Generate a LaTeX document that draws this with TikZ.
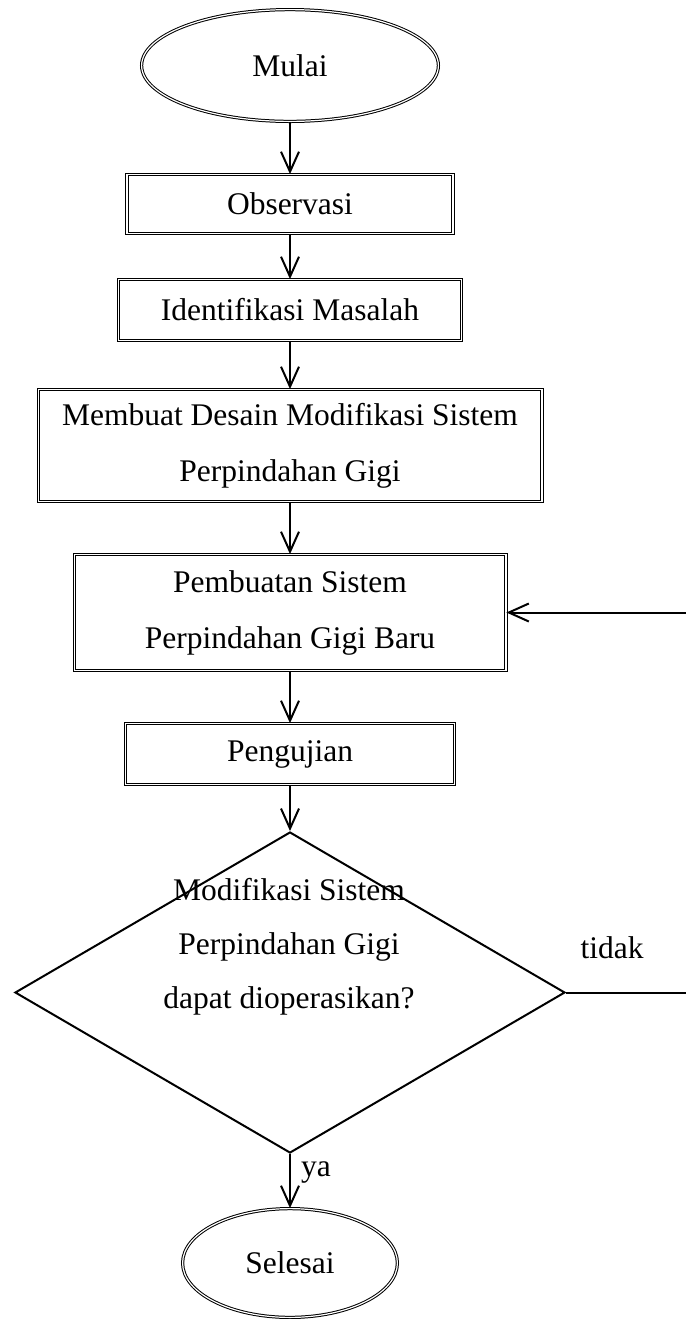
\documentclass[tikz,border=0pt]{standalone}
\usepackage{fontspec}
\setmainfont{Liberation Serif}
\usetikzlibrary{arrows.meta,positioning,shapes.geometric}

\begin{document}
\begin{tikzpicture}[x=0.5pt,y=-0.5pt,>={Straight Barb[length=10pt,width=9pt]},
  every node/.style={font=\fontsize{15.75pt}{28pt}\selectfont,align=center},
  box/.style={draw,double,line width=0.5pt,double distance=0.6pt,inner sep=0pt},
  term/.style={box,ellipse},
  decision/.style={draw,diamond,line width=1pt,inner sep=0pt},
  arr/.style={->,line width=1pt}]
\useasboundingbox (0,0) rectangle (686,1319);
\node[term,minimum width=148.4pt,minimum height=55.9pt] (start) at (290,65.5) {Mulai};
\node[box,minimum width=163pt,minimum height=29.4pt] (obs) at (290,204) {Observasi};
\node[box,minimum width=171.4pt,minimum height=30.4pt] (ident) at (290,310) {Identifikasi Masalah};
\node[box,minimum width=251.9pt,minimum height=55.9pt] (design) at (290,445.5) {Membuat Desain Modifikasi Sistem\\Perpindahan Gigi};
\node[box,minimum width=215.9pt,minimum height=57.9pt] (build) at (290,612.5) {Pembuatan Sistem\\Perpindahan Gigi Baru};
\node[box,minimum width=164.4pt,minimum height=30.4pt] (test) at (290,754) {Pengujian};
\node[decision,minimum width=275pt,minimum height=160.5pt] (dec) at (290,992.5) {};
\node[font=\fontsize{15.75pt}{27pt}\selectfont] (dectext) at (289,947) {Modifikasi Sistem\\Perpindahan Gigi\\dapat dioperasikan?};
\node[term,minimum width=107.4pt,minimum height=54.4pt] (stop) at (290,1263) {Selesai};

% alur utama
\foreach \a/\b in {start/obs,obs/ident,ident/design,design/build,build/test,test/dec,dec/stop}
  \draw[arr] (\a) -- (\b);
\node (ya) at (316,1172) {ya};

% kembali ke pembuatan
\draw[arr] (dec.east) -- ++(128,0) |- (build.east);
\node (tidak) at (612,948) {tidak};
\end{tikzpicture}
\end{document}
